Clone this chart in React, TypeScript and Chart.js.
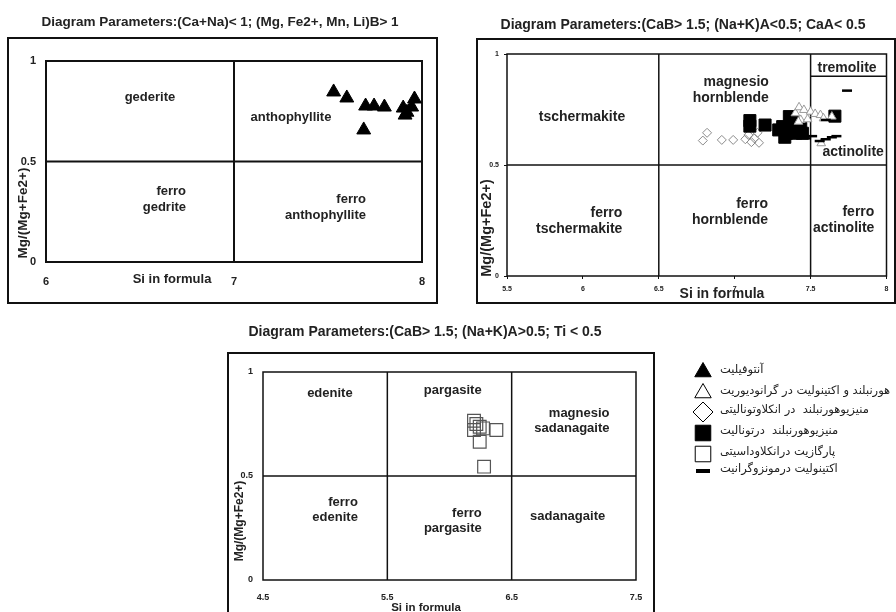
import React, { useEffect, useRef } from 'react';
import { Chart, registerables, ChartConfiguration, Plugin } from 'chart.js';
import { drawPoint } from 'chart.js/helpers';

Chart.register(...registerables);

// ---------- data ----------

// top-left: Mg-Fe-Mn-Li amphiboles
const anthoSi = [7.53, 7.60, 7.70, 7.745, 7.80, 7.69, 7.90, 7.91, 7.96, 7.945, 7.92];
const anthoMg = [0.846, 0.816, 0.776, 0.776, 0.771, 0.657, 0.766, 0.731, 0.811, 0.771, 0.745];

// top-right: calcic amphiboles, (Na+K)A < 0.5
const grSi = [7.40, 7.424, 7.456, 7.50, 7.53, 7.565, 7.435, 7.585, 7.48, 7.64, 7.57, 7.42];
const grMg = [0.733, 0.76, 0.748, 0.74, 0.73, 0.725, 0.703, 0.71, 0.706, 0.718, 0.598, 0.695];
const enclaveSi = [6.79, 6.818, 6.915, 6.99, 7.07, 7.09, 7.13, 7.15, 7.16, 7.11];
const enclaveMg = [0.61, 0.645, 0.613, 0.613, 0.616, 0.635, 0.62, 0.645, 0.60, 0.603];
const tonaliteSi = [7.10, 7.10, 7.20, 7.29, 7.316, 7.34, 7.36, 7.38, 7.40, 7.435, 7.446, 7.33, 7.66];
const tonaliteMg = [0.70, 0.675, 0.68, 0.658, 0.673, 0.643, 0.718, 0.695, 0.643, 0.665, 0.643, 0.625, 0.72];
const monzoSi = [7.74, 7.47, 7.51, 7.60, 7.64, 7.67, 7.60, 7.56];
const monzoMg = [0.835, 0.62, 0.63, 0.616, 0.625, 0.63, 0.703, 0.608];

// bottom: calcic amphiboles, (Na+K)A > 0.5
const pargSi = [6.197, 6.216, 6.243, 6.27, 6.243, 6.197, 6.377, 6.278];
const pargMg = [0.766, 0.75, 0.737, 0.729, 0.665, 0.721, 0.721, 0.545];

// ticks and field boundaries
const tlXTicks = [6, 7, 8];
const trXTicks = [5.5, 6, 6.5, 7, 7.5, 8];
const btXTicks = [4.5, 5.5, 6.5, 7.5];
const yTicks = [0, 0.5, 1];
const tlXSplits = [7];
const trXSplits = [6.5, 7.5];
const btXSplits = [5.5, 6.5];
const ySplit = 0.5;
const tremoliteMg = 0.9;

const legendLabels = [
  'آنتوفیلیت',
  'هورنبلند و اکتینولیت در گرانودیوریت',
  'منیزیوهورنبلند  در انکلاوتونالیتی',
  'منیزیوهورنبلند  درتونالیت',
  'پارگازیت درانکلاوداسیتی',
  'اکتینولیت درمونزوگرانیت',
];

type Region = { lines: string[]; x: number; y: number; align: CanvasTextAlign };

const tlRegions: Region[] = [
  { lines: ['gederite'], x: 6.553, y: 0.821, align: 'center' },
  { lines: ['anthophyllite'], x: 7.303, y: 0.721, align: 'center' },
  { lines: ['ferro', 'gedrite'], x: 6.745, y: 0.353, align: 'right' },
  { lines: ['ferro', 'anthophyllite'], x: 7.702, y: 0.313, align: 'right' },
];
const trRegions: Region[] = [
  { lines: ['tschermakite'], x: 5.994, y: 0.716, align: 'center' },
  { lines: ['magnesio', 'hornblende'], x: 7.225, y: 0.874, align: 'right' },
  { lines: ['tremolite'], x: 7.74, y: 0.937, align: 'center' },
  { lines: ['actinolite'], x: 7.78, y: 0.559, align: 'center' },
  { lines: ['ferro', 'tschermakite'], x: 6.26, y: 0.284, align: 'right' },
  { lines: ['ferro', 'hornblende'], x: 7.22, y: 0.324, align: 'right' },
  { lines: ['ferro', 'actinolite'], x: 7.92, y: 0.288, align: 'right' },
];
const btRegions: Region[] = [
  { lines: ['edenite'], x: 5.038, y: 0.899, align: 'center' },
  { lines: ['pargasite'], x: 6.026, y: 0.913, align: 'center' },
  { lines: ['magnesio', 'sadanagaite'], x: 7.287, y: 0.803, align: 'right' },
  { lines: ['ferro', 'edenite'], x: 5.263, y: 0.375, align: 'right' },
  { lines: ['ferro', 'pargasite'], x: 6.259, y: 0.322, align: 'right' },
  { lines: ['sadanagaite'], x: 6.95, y: 0.308, align: 'center' },
];

// ---------- helpers ----------

const FONT = '"Liberation Sans", Arial, Helvetica, sans-serif';
const INK = '#222';

const pts = (xs: number[], ys: number[]) => xs.map((x, i) => ({ x, y: ys[i] }));

const splitLines = (xSplits: number[], xMin: number, xMax: number) => [
  ...xSplits.map((x) => [{ x, y: 0 }, { x, y: 1 }]),
  [{ x: xMin, y: ySplit }, { x: xMax, y: ySplit }],
];

const lineSet = (data: { x: number; y: number }[], width: number) => ({
  data,
  showLine: true,
  borderColor: '#111',
  borderWidth: width,
  pointRadius: 0,
  order: 9,
});

interface Decor {
  ox: number;
  oy: number;
  title: string;
  titleAt: [number, number, number];
  box: [number, number, number, number];
  frame: number;
  regions: Region[];
  regionSize: number;
  lineGap: number;
  xTitleAt: [number, number, number];
  yTitleAt: [number, number, number];
  legend?: boolean;
}

const legendMarkers = [
  { pointStyle: 'triangle', radius: 9.5, fill: '#000', y: 372 },
  { pointStyle: 'triangle', radius: 9.5, fill: '#fff', y: 393 },
  { pointStyle: 'rectRot', radius: 10, fill: '#fff', y: 412 },
  { pointStyle: 'rect', radius: 11, fill: '#000', y: 433 },
  { pointStyle: 'rect', radius: 11, fill: '#fff', y: 454 },
  { pointStyle: 'line', radius: 7, fill: '#000', y: 471 },
];

const decorPlugin = (d: Decor): Plugin<'scatter'> => ({
  id: 'decor',
  beforeDatasetsDraw(chart) {
    const { ctx, chartArea: a, scales } = chart;
    ctx.save();
    ctx.strokeStyle = '#111';
    ctx.lineWidth = 2;
    ctx.strokeRect(d.box[0] - d.ox, d.box[1] - d.oy, d.box[2] - d.box[0], d.box[3] - d.box[1]);
    ctx.lineWidth = d.frame;
    ctx.strokeRect(a.left, a.top, a.right - a.left, a.bottom - a.top);

    ctx.fillStyle = INK;
    ctx.textBaseline = 'middle';
    ctx.textAlign = 'center';
    ctx.font = `bold ${d.titleAt[2]}px ${FONT}`;
    ctx.fillText(d.title, d.titleAt[0] - d.ox, d.titleAt[1] - d.oy);

    ctx.font = `bold ${d.regionSize}px ${FONT}`;
    d.regions.forEach((r) => {
      ctx.textAlign = r.align;
      const px = scales.x.getPixelForValue(r.x);
      const py = scales.y.getPixelForValue(r.y);
      r.lines.forEach((t, i) => ctx.fillText(t, px, py + i * d.lineGap));
    });

    ctx.textAlign = 'center';
    ctx.font = `bold ${d.xTitleAt[2]}px ${FONT}`;
    ctx.fillText('Si in formula', d.xTitleAt[0] - d.ox, d.xTitleAt[1] - d.oy);
    ctx.translate(d.yTitleAt[0] - d.ox, d.yTitleAt[1] - d.oy);
    ctx.rotate(-Math.PI / 2);
    ctx.font = `bold ${d.yTitleAt[2]}px ${FONT}`;
    ctx.fillText('Mg/(Mg+Fe2+)', 0, 0);
    ctx.restore();
  },
  afterDraw(chart) {
    if (!d.legend) return;
    const ctx = chart.ctx;
    ctx.save();
    legendMarkers.forEach((m, i) => {
      const isLine = m.pointStyle === 'line';
      ctx.fillStyle = m.fill;
      ctx.strokeStyle = '#000';
      ctx.lineWidth = isLine ? 4 : 1;
      drawPoint(ctx, { pointStyle: m.pointStyle as any, radius: m.radius, rotation: 0, borderWidth: ctx.lineWidth }, 703 - d.ox, m.y - d.oy);
      ctx.fillStyle = INK;
      ctx.font = `11.5px "DejaVu Sans", sans-serif`;
      ctx.direction = 'rtl';
      ctx.textAlign = 'left';
      ctx.textBaseline = 'middle';
      ctx.fillText(legendLabels[i], 720 - d.ox, m.y - 2 - d.oy);
    });
    ctx.restore();
  },
});

interface AxisSpec {
  xMin: number;
  xMax: number;
  xTicks: number[];
  tickSize: number;
  marks: boolean;
  xPad: number;
  yPad: number;
  yWidth: number;
  xHeight: number;
}

const axes = (s: AxisSpec) => {
  const grid = {
    display: s.marks,
    drawOnChartArea: false,
    drawTicks: s.marks,
    tickLength: 3,
    color: '#111',
  };
  const ticks = (pad: number) => ({
    padding: pad,
    color: INK,
    font: { family: FONT, size: s.tickSize, weight: 'bold' as const },
    callback: (v: any) => String(v),
  });
  return {
    x: {
      type: 'linear' as const,
      min: s.xMin,
      max: s.xMax,
      grid,
      border: { display: false },
      ticks: ticks(s.xPad),
      afterBuildTicks: (sc: any) => { sc.ticks = s.xTicks.map((value) => ({ value })); },
      afterFit: (sc: any) => { sc.height = s.xHeight; },
    },
    y: {
      type: 'linear' as const,
      min: 0,
      max: 1,
      grid,
      border: { display: false },
      ticks: ticks(s.yPad),
      afterBuildTicks: (sc: any) => { sc.ticks = yTicks.map((value) => ({ value })); },
      afterFit: (sc: any) => { sc.width = s.yWidth; },
    },
  };
};

const baseOptions = (padding: any, scales: any) => ({
  responsive: false,
  animation: false as const,
  layout: { padding },
  events: [],
  plugins: { legend: { display: false }, tooltip: { enabled: false } },
  scales,
});

// ---------- chart configs ----------

const topLeft = (): ChartConfiguration<'scatter'> => ({
  type: 'scatter',
  data: {
    datasets: [
      ...splitLines(tlXSplits, 6, 8).map((l) => lineSet(l, 2)),
      {
        data: pts(anthoSi, anthoMg),
        pointStyle: 'triangle',
        pointRadius: 8,
        backgroundColor: '#000',
        borderColor: '#000',
        borderWidth: 1,
        clip: false,
        order: 0,
      },
    ] as any,
  },
  options: baseOptions(
    { left: 0, right: 23, top: 61, bottom: 20 },
    axes({ xMin: 6, xMax: 8, xTicks: tlXTicks, tickSize: 11, marks: false, xPad: 13, yPad: 10, yWidth: 46, xHeight: 30 }),
  ) as any,
  plugins: [
    decorPlugin({
      ox: 0, oy: 0,
      title: 'Diagram Parameters:(Ca+Na)< 1; (Mg, Fe2+, Mn, Li)B> 1',
      titleAt: [220, 22, 13.5],
      box: [8, 38, 437, 303],
      frame: 2,
      regions: tlRegions,
      regionSize: 13,
      lineGap: 16,
      xTitleAt: [172, 279, 13],
      yTitleAt: [23, 213, 13.5],
    }),
  ],
});

const topRight = (): ChartConfiguration<'scatter'> => ({
  type: 'scatter',
  data: {
    datasets: [
      ...splitLines(trXSplits, 5.5, 8).map((l) => lineSet(l, 1.5)),
      lineSet([{ x: 7.5, y: tremoliteMg }, { x: 8, y: tremoliteMg }], 1.5),
      {
        data: pts(enclaveSi, enclaveMg),
        pointStyle: 'rectRot',
        pointRadius: 4.5,
        backgroundColor: 'rgba(255,255,255,0)',
        borderColor: '#8a8a8a',
        borderWidth: 1,
        clip: false,
        order: 4,
      },
      {
        data: pts(tonaliteSi, tonaliteMg),
        pointStyle: 'rect',
        pointRadius: 8.5,
        backgroundColor: '#000',
        borderColor: '#000',
        borderWidth: 1,
        clip: false,
        order: 3,
      },
      {
        data: pts(grSi, grMg),
        pointStyle: 'triangle',
        pointRadius: 5,
        backgroundColor: '#fff',
        borderColor: '#9a9a9a',
        borderWidth: 1,
        clip: false,
        order: 2,
      },
      {
        data: pts(monzoSi, monzoMg),
        pointStyle: 'line',
        pointRadius: 5,
        borderColor: '#000',
        borderWidth: 2.5,
        clip: false,
        order: 1,
      },
    ] as any,
  },
  options: baseOptions(
    { left: 0, right: 4, top: 54, bottom: 16 },
    axes({ xMin: 5.5, xMax: 8, xTicks: trXTicks, tickSize: 7, marks: true, xPad: 6, yPad: 5, yWidth: 57, xHeight: 20 }),
  ) as any,
  plugins: [
    decorPlugin({
      ox: 450, oy: 0,
      title: 'Diagram Parameters:(CaB> 1.5; (Na+K)A<0.5; CaA< 0.5',
      titleAt: [683, 25, 14],
      box: [477, 39, 895, 303],
      frame: 1.5,
      regions: trRegions,
      regionSize: 14,
      lineGap: 16,
      xTitleAt: [722, 294, 14],
      yTitleAt: [487, 228, 14.5],
    }),
  ],
});

const bottom = (): ChartConfiguration<'scatter'> => ({
  type: 'scatter',
  data: {
    datasets: [
      ...splitLines(btXSplits, 4.5, 7.5).map((l) => lineSet(l, 1.5)),
      {
        data: pts(pargSi, pargMg),
        pointStyle: 'rect',
        pointRadius: 9,
        backgroundColor: 'rgba(255,255,255,0)',
        borderColor: '#555',
        borderWidth: 1.2,
        clip: false,
        order: 0,
      },
    ] as any,
  },
  options: baseOptions(
    { left: 0, right: 260, top: 72, bottom: 12 },
    axes({ xMin: 4.5, xMax: 7.5, xTicks: btXTicks, tickSize: 9, marks: false, xPad: 12, yPad: 10, yWidth: 43, xHeight: 20 }),
  ) as any,
  plugins: [
    decorPlugin({
      ox: 220, oy: 300,
      title: 'Diagram Parameters:(CaB> 1.5; (Na+K)A>0.5; Ti < 0.5',
      titleAt: [425, 332, 14],
      box: [228, 353, 654, 630],
      frame: 1.5,
      regions: btRegions,
      regionSize: 13,
      lineGap: 15,
      xTitleAt: [426, 608, 11.5],
      yTitleAt: [240, 521, 12],
      legend: true,
    }),
  ],
});

function ChartCanvas({ make, left, top, width, height }: {
  make: () => ChartConfiguration<'scatter'>; left: number; top: number; width: number; height: number;
}) {
  const ref = useRef<HTMLCanvasElement | null>(null);
  useEffect(() => {
    if (!ref.current) return;
    const chart = new Chart(ref.current, make());
    return () => chart.destroy();
  }, []);
  return (
    <canvas
      ref={ref}
      width={width}
      height={height}
      style={{ position: 'absolute', left, top, width, height }}
    />
  );
}

export default function App() {
  return (
    <div style={{ position: 'absolute', left: 0, top: 0, width: 896, height: 612, overflow: 'hidden', background: '#fff' }}>
      <ChartCanvas make={topLeft} left={0} top={0} width={445} height={312} />
      <ChartCanvas make={topRight} left={450} top={0} width={446} height={312} />
      <ChartCanvas make={bottom} left={220} top={300} width={676} height={312} />
    </div>
  );
}
